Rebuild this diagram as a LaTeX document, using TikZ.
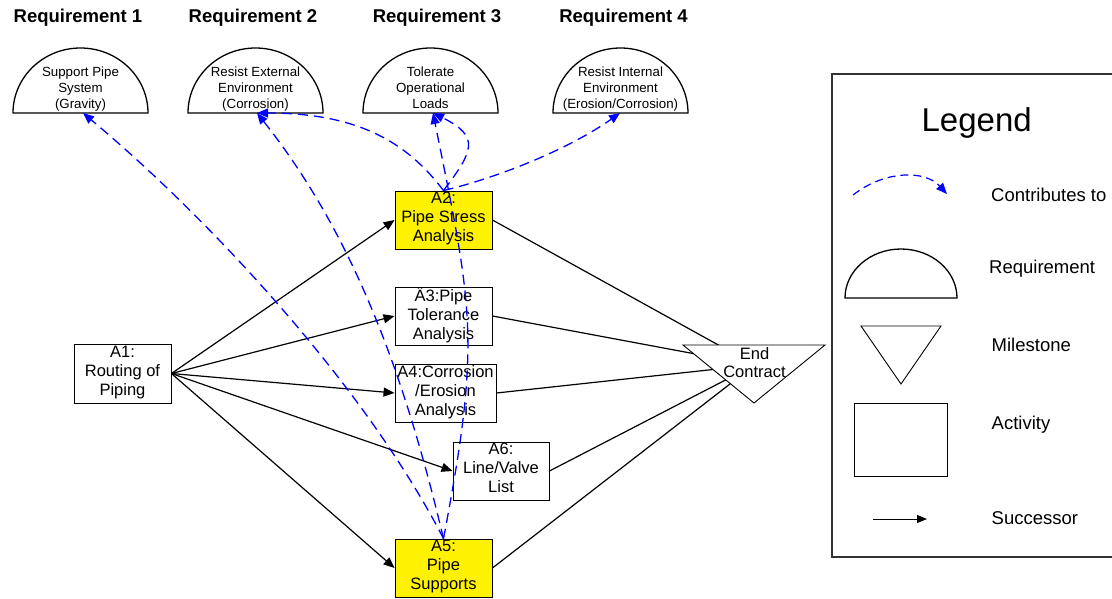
\documentclass[tikz,border=0pt]{standalone}
\usepackage{fontspec}
\setmainfont{Liberation Sans}
\usetikzlibrary{arrows.meta}
\pgfdeclarelayer{background}
\pgfsetlayers{background,main}
\tikzset{
  act/.style={draw=black, line width=0.9pt, rectangle, inner sep=0pt, align=center,
    font=\fontsize{16.5}{19}\selectfont,
    execute at begin node=\strut, execute at end node=\strut},
  hl/.style={fill=yellow},
  plain/.style={fill=white},
  reqtxt/.style={inner sep=0pt, align=center, font=\fontsize{13.3}{16.3}\selectfont,
    execute at begin node=\strut, execute at end node=\strut},
  reqtitle/.style={inner sep=0pt, anchor=base, font=\fontsize{18.5}{22}\selectfont\bfseries},
  dome/.style={draw=black, line width=1.3pt, fill=white},
  legtxt/.style={inner sep=0pt, anchor=base west, font=\fontsize{18.5}{22}\selectfont},
  succ/.style={black, line width=1.2pt, -{Triangle[length=11pt,width=9pt]}},
  tomile/.style={black, line width=1.2pt},
  contrib/.style={blue, line width=1.3pt, dash pattern=on 10pt off 6pt,
    -{Triangle[length=11pt,width=9pt]}},
}
\begin{document}
\begin{tikzpicture}[x=1pt,y=-1pt]
\useasboundingbox (0,0) rectangle (1112,598);

% requirement titles
\node[reqtitle] (T1) at (78,22.7) {Requirement 1};
\node[reqtitle] (T2) at (253,22.7) {Requirement 2};
\node[reqtitle] (T3) at (437,22.7) {Requirement 3};
\node[reqtitle] (T4) at (623.5,22.7) {Requirement 4};

% requirement domes
\foreach \cx in {80.5,255.5,430.5,620.5}{
  \draw[dome] (\cx-67.5,113) arc[start angle=180,end angle=0,x radius=67.5pt,y radius=65pt] -- cycle;
}
\node[reqtxt] (R1) at (80.5,90) {Support Pipe\\System\\(Gravity)};
\node[reqtxt] (R2) at (255.5,90) {Resist External\\Environment\\(Corrosion)};
\node[reqtxt] (R3) at (430.5,90) {Tolerate\\Operational\\Loads};
\node[reqtxt] (R4) at (620.5,90) {Resist Internal\\Environment\\(Erosion/Corrosion)};
\coordinate (R1b) at (83,113);
\coordinate (R2b) at (257,113);
\coordinate (R3b) at (433,113);
\coordinate (R4b) at (620,113);

% activities
\node[act,plain,minimum width=97pt,minimum height=59pt] (A1) at (122.5,373.5) {A1:\\Routing of\\Piping};
\node[act,hl,minimum width=97pt,minimum height=58pt] (A2) at (443.5,220) {A2:\\Pipe Stress\\Analysis};
\node[act,plain,minimum width=97pt,minimum height=58pt] (A3) at (443.5,316) {Ä3:Pipe\\Tolerance\\Analysis};
\node[act,plain,minimum width=101pt,minimum height=58pt] (A4) at (445.5,393) {A4:Corrosion\\/Erosion\\Analysis};
\node[act,plain,minimum width=96pt,minimum height=58pt] (A6) at (501,471) {A6:\\Line/Valve\\List};
\node[act,hl,minimum width=97pt,minimum height=58pt] (A5) at (443.5,568) {A5:\\Pipe\\Supports};

% milestone text
\node[inner sep=0pt, align=center, font=\fontsize{16.5}{18}\selectfont,
  execute at begin node=\strut, execute at end node=\strut] (EC) at (754.5,365) {End\\Contract};

\begin{pgfonlayer}{background}
  \draw[succ] (A1.east) -- (A2.west);
  \draw[succ] (A1.east) -- (A3.west);
  \draw[succ] (A1.east) -- (A4.west);
  \draw[succ] (A1.east) -- (A6.west);
  \draw[succ] (A1.east) -- (A5.west);
  \draw[tomile] (A2.east) -- (EC.center);
  \draw[tomile] (A3.east) -- (EC.center);
  \draw[tomile] (A4.east) -- (EC.center);
  \draw[tomile] (A6.east) -- (EC.center);
  \draw[tomile] (A5.east) -- (EC.center);
  \draw[black, line width=0.9pt, fill=white] (683,345) -- (825,345) -- (754,403) -- cycle;
\end{pgfonlayer}

% contributes-to connectors
\draw[contrib] (A5.north) .. controls (360,377) and (198,209) .. (R1b);
\draw[contrib] (A5.north) .. controls (406,381) and (356,238) .. (R2b);
\draw[contrib] (A5.north) .. controls (481,341) and (473,311) .. (R3b);
\draw[contrib] (A2.north) .. controls (407.5,143) and (359,113) .. (R2b);
\draw[contrib] (A2.north) .. controls (473.5,151) and (480.5,136.5) .. (R3b);
\draw[contrib] (A2.north) .. controls (501.7,176.6) and (570.8,147.8) .. (R4b);

% legend
\draw[line width=1.5pt, black!80] (1113,74) -- (832,74) -- (832,557) -- (1113,557);
\node[inner sep=0pt, anchor=base, font=\fontsize{33}{38}\selectfont] (LT) at (976.7,131) {Legend};
\coordinate (L1s) at (853,195);
\coordinate (L1e) at (947,194);
\draw[contrib, line width=1.2pt, dash pattern=on 8pt off 5pt] (L1s) .. controls (885,170) and (925,170) .. (L1e);
\node[legtxt] (LC) at (991,201.6) {Contributes to};
\draw[dome] (845,298) arc[start angle=180,end angle=0,x radius=56pt,y radius=49pt] -- cycle;
\node[legtxt] (LR) at (989,273.6) {Requirement};
\draw[black, line width=0.9pt] (861,326) -- (941,326) -- (901,384) -- cycle;
\node[legtxt] (LM) at (991.5,351) {Milestone};
\draw[black, line width=0.9pt] (854,403) rectangle (947,476);
\node[legtxt] (LA) at (991.5,429) {Activity};
\coordinate (L5s) at (873,519);
\coordinate (L5e) at (927,519);
\draw[succ, line width=1pt, -{Triangle[length=10pt,width=8pt]}] (L5s) -- (L5e);
\node[legtxt] (LS) at (991.5,524.3) {Successor};
\end{tikzpicture}
\end{document}
